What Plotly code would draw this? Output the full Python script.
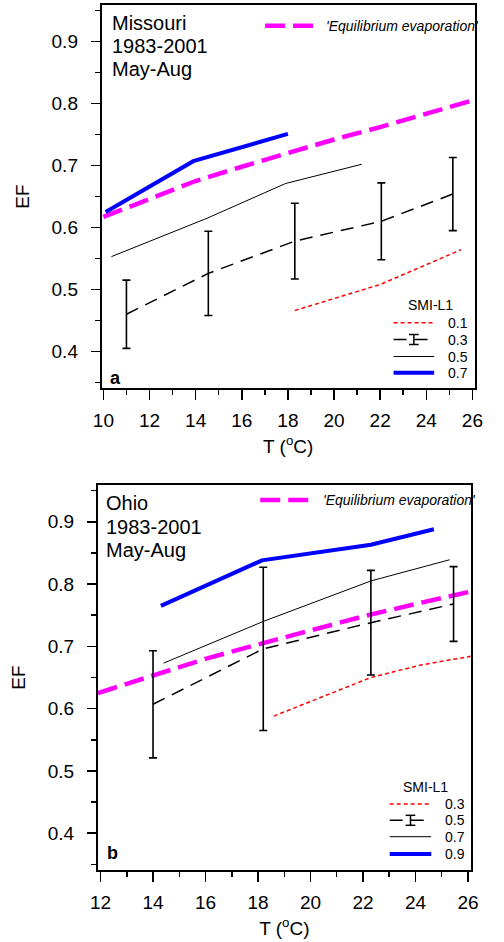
import plotly.graph_objects as go

# ---------------- Panel a: Missouri ----------------
eq_a_T = [10.0, 12.0, 14.0, 16.0, 18.0, 20.0, 22.0, 24.0, 26.1]
eq_a_EF = [0.617, 0.646, 0.675, 0.698, 0.720, 0.742, 0.762, 0.783, 0.806]

a01_T = [18.3, 22.0, 25.5]
a01_EF = [0.466, 0.508, 0.564]

a03_T = [11.0, 14.55, 18.3, 22.05, 25.15]
a03_EF = [0.460, 0.526, 0.578, 0.610, 0.654]
a03_err = [0.055, 0.068, 0.061, 0.062, 0.059]

a05_T = [10.35, 14.5, 17.9, 21.2]
a05_EF = [0.553, 0.615, 0.671, 0.702]

a07_T = [10.1, 13.9, 18.0]
a07_EF = [0.625, 0.707, 0.751]

# ---------------- Panel b: Ohio ----------------
eq_b_T = [11.9, 14.0, 16.0, 18.0, 20.0, 22.0, 24.0, 26.1]
eq_b_EF = [0.625, 0.653, 0.680, 0.703, 0.726, 0.748, 0.768, 0.788]

b03_T = [18.6, 22.3, 24.2, 26.1]
b03_EF = [0.588, 0.650, 0.670, 0.684]

b05_T = [14.0, 18.2, 22.3, 25.45]
b05_EF = [0.607, 0.696, 0.738, 0.768]
b05_err = [0.086, 0.131, 0.084, 0.060]

b07_T = [14.4, 18.2, 22.3, 25.3]
b07_EF = [0.673, 0.740, 0.805, 0.839]

b09_T = [14.3, 18.15, 22.3, 24.7]
b09_EF = [0.765, 0.838, 0.863, 0.888]

labels_a = ["0.1", "0.3", "0.5", "0.7"]
labels_b = ["0.3", "0.5", "0.7", "0.9"]
EQ_NAME = "'Equilibrium evaporation'"
LEG_TITLE = "SMI-L1"

FONT = "Liberation Sans, Arial, sans-serif"
W, H = 504, 942

MAG = dict(color="#ff00ff", width=4.5, dash="20px,8px")
STYLES = [
    dict(color="#ff0000", width=1.5, dash="4px,3px"),
    dict(color="black", width=1.5, dash="13px,8px"),
    dict(color="black", width=1, dash="solid"),
    dict(color="#0000ff", width=4, dash="solid"),
]

fig = go.Figure()

def add_panel(xa, ya, eqT, eqE, series):
    fig.add_trace(go.Scatter(x=eqT, y=eqE, mode="lines", xaxis=xa, yaxis=ya,
                             line=MAG, name=EQ_NAME, showlegend=False))
    for (T, E, err, name), st in zip(series, STYLES):
        kw = {}
        if err is not None:
            kw["error_y"] = dict(type="data", array=err, visible=True, color="black",
                                 thickness=1.6, width=4)
        fig.add_trace(go.Scatter(x=T, y=E, mode="lines", xaxis=xa, yaxis=ya,
                                 line=st, name=name, showlegend=False, **kw))

add_panel("x", "y", eq_a_T, eq_a_EF, [
    (a01_T, a01_EF, None, labels_a[0]),
    (a03_T, a03_EF, a03_err, labels_a[1]),
    (a05_T, a05_EF, None, labels_a[2]),
    (a07_T, a07_EF, None, labels_a[3]),
])

add_panel("x2", "y2", eq_b_T, eq_b_EF, [
    (b03_T, b03_EF, None, labels_b[0]),
    (b05_T, b05_EF, b05_err, labels_b[1]),
    (b07_T, b07_EF, None, labels_b[2]),
    (b09_T, b09_EF, None, labels_b[3]),
])

def xaxis(domain, rng, tick0, anchor):
    return dict(domain=domain, range=rng, anchor=anchor, tick0=tick0, dtick=2,
                showline=True, linecolor="black", linewidth=2, mirror=True,
                ticks="outside", ticklen=10, tickwidth=1.5, tickcolor="black",
                minor=dict(ticks="outside", ticklen=5, tickwidth=1.5, tickcolor="black", dtick=1, tick0=0),
                showgrid=False, zeroline=False, ticklabelstandoff=4,
                tickfont=dict(size=19, color="black", family=FONT),
                title=dict(text="T (<sup>o</sup>C)", font=dict(size=19, color="black", family=FONT), standoff=10))

def yaxis(domain, anchor):
    return dict(domain=domain, range=[0.341, 0.959], anchor=anchor, tick0=0, dtick=0.1, tickformat=".1f",
                showline=True, linecolor="black", linewidth=2, mirror=True,
                ticks="outside", ticklen=9, tickwidth=1.5, tickcolor="black",
                minor=dict(ticks="outside", ticklen=5, tickwidth=1.5, tickcolor="black", dtick=0.05, tick0=0),
                showgrid=False, zeroline=False, ticklabelstandoff=9,
                tickfont=dict(size=19, color="black", family=FONT),
                title=dict(text="EF", font=dict(size=19, color="black", family=FONT), standoff=17))

def px_x(p):
    return p / W

def px_y(p):
    return 1 - p / H

fig.update_layout(
    width=W, height=H, margin=dict(l=0, r=0, t=0, b=0),
    paper_bgcolor="white", plot_bgcolor="white",
    font=dict(family=FONT, color="black"),
    xaxis=xaxis([96 / W, 482 / W], [9.93, 26.1], 10, "y"),
    yaxis=yaxis([px_y(388), px_y(5)], "x"),
    xaxis2=xaxis([92 / W, 478 / W], [11.9, 26.11], 12, "y2"),
    yaxis2=yaxis([px_y(870), px_y(485)], "x2"),
    showlegend=False,
)

def txt(x, y, s, size=20, bold=False, italic=False, xanchor="left"):
    fig.add_annotation(x=px_x(x), y=px_y(y), xref="paper", yref="paper", text=s, showarrow=False,
                       xanchor=xanchor, yanchor="middle",
                       font=dict(size=size, family=FONT, color="black",
                                 weight="bold" if bold else "normal",
                                 style="italic" if italic else "normal"))

def seg(x0, x1, y0, y1, line):
    fig.add_shape(type="line", xref="paper", yref="paper",
                  x0=px_x(x0), x1=px_x(x1), y0=px_y(y0), y1=px_y(y1), line=line)

# panel texts
for i, s in enumerate(["Missouri", "1983-2001", "May-Aug"]):
    txt(105, 23 + 23 * i, s)
for i, s in enumerate(["Ohio", "1983-2001", "May-Aug"]):
    txt(98, 503 + 23.5 * i, s)
txt(102, 378, "a", size=18, bold=True)
txt(99, 853, "b", size=18, bold=True)

# equilibrium legend keys
def eq_legend(x0, x1, y, tx):
    seg(x0, x1, y, y, MAG)
    txt(tx, y, EQ_NAME, size=14, italic=True)

eq_legend(265, 315, 25.7, 326)
eq_legend(260, 315, 500, 323)

# SMI legends
def smi_legend(cx_title, y_title, x0, x1, ys, tx, labels):
    txt(cx_title, y_title, LEG_TITLE, size=14, xanchor="center")
    for y, lab, st in zip(ys, labels, STYLES):
        seg(x0, x1, y, y, st)
        txt(tx, y, lab, size=14)
    # error-bar glyph on the second key
    gx = (x0 + x1) / 2
    yb = ys[1]
    eb = dict(color="black", width=1.5)
    seg(gx, gx, yb - 5, yb + 5, eb)
    seg(gx - 5, gx + 5, yb - 5, yb - 5, eb)
    seg(gx - 5, gx + 5, yb + 5, yb + 5, eb)

smi_legend(436, 305, 398, 440, [322.7, 339.5, 356.5, 372.7], 452, labels_a)
smi_legend(431, 787, 394, 437, [804, 820.3, 836.7, 854], 449, labels_b)

fig.write_html("out.html", config={"displayModeBar": False, "staticPlot": True},
               post_script="document.body.style.margin='0';document.body.style.overflow='hidden';")
